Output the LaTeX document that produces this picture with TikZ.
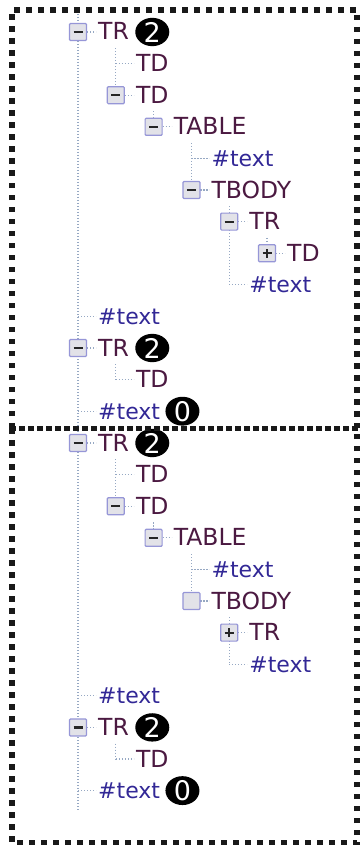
\documentclass[tikz,border=0pt]{standalone}
\usepackage{fontspec}
\setmainfont{DejaVu Sans}
\usetikzlibrary{positioning}
\usetikzlibrary{shapes}
\definecolor{tagcol}{RGB}{75,25,65}
\definecolor{txtcol}{RGB}{50,40,150}
\definecolor{linecol}{RGB}{150,168,195}
\definecolor{boxedge}{RGB}{150,150,215}
\definecolor{boxfill}{RGB}{226,226,232}
\tikzstyle{branch}=[linecol, line width=1.1pt, dash pattern=on 1.1pt off 1.9pt]
\tikzstyle{tag}=[anchor=west, inner sep=0pt, text height=16pt, text depth=0pt,
  font=\fontsize{23.5}{26}\selectfont, text=tagcol]
\tikzstyle{txt}=[tag, font=\fontsize{22}{26}\selectfont, text=txtcol]
\tikzstyle{toggle}=[draw=boxedge, fill=boxfill, line width=1.2pt, minimum size=17pt,
  inner sep=0pt, rounded corners=1pt]
\tikzstyle{emptybox}=[toggle]
\tikzstyle{openbox}=[toggle, path picture={
    \draw[line width=2.2pt, black!85]
      ([xshift=-4.5pt]path picture bounding box.center) --
      ([xshift=4.5pt]path picture bounding box.center);}]
\tikzstyle{closedbox}=[toggle, path picture={
    \draw[line width=2.2pt, black!85]
      ([xshift=-4.5pt]path picture bounding box.center) --
      ([xshift=4.5pt]path picture bounding box.center)
      ([yshift=-4.5pt]path picture bounding box.center) --
      ([yshift=4.5pt]path picture bounding box.center);}]
\tikzstyle{badge}=[ellipse, fill=black, text=white, minimum width=34pt,
  minimum height=28pt, inner sep=0pt, font=\fontsize{27}{27}\selectfont]
\tikzstyle{frame}=[line width=5.5pt, dash pattern=on 5.5pt off 6.5pt, black!90]
\tikzstyle{divider}=[line width=5pt, dash pattern=on 6pt off 3pt, black!90]

\begin{document}
\begin{tikzpicture}[x=1pt, y=-1pt]
  \useasboundingbox (0,0) rectangle (360,845);

  % stem shared by both trees
  \coordinate (root) at (78,14);
  \coordinate (stem) at (78,810);
  \draw[branch] (root) -- (stem);

  % upper tree: rows
  \foreach \k/\lvl/\lab/\sty [evaluate=\lvl as \xx using 78+37.8*\lvl,
      evaluate=\k as \yy using 32+31.6*\k] in
    {0/0/TR/tag, 1/1/TD/tag, 2/1/TD/tag, 3/2/TABLE/tag, 4/3/\#text/txt,
     5/3/TBODY/tag, 6/4/TR/tag, 7/5/TD/tag, 8/4/\#text/txt, 9/0/\#text/txt,
     10/0/TR/tag, 11/1/TD/tag, 12/0/\#text/txt} {
    \coordinate (pa\k) at (\xx,\yy);
    \node[\sty] (la\k) at (\xx+20,\yy) {\lab};
    \draw[branch] (pa\k) -- ([xshift=-2pt]la\k.west);
  }
  \draw[branch] ([yshift=-8pt]pa1 |- la0.south) -- (pa2);
  \draw[branch] ([yshift=-8pt]pa3 |- la2.south) -- (pa3);
  \draw[branch] ([yshift=-8pt]pa4 |- la3.south) -- (pa5);
  \draw[branch] ([yshift=-8pt]pa6 |- la5.south) -- (pa8);
  \draw[branch] ([yshift=-8pt]pa7 |- la6.south) -- (pa7);
  \draw[branch] ([yshift=-8pt]pa11 |- la10.south) -- (pa11);
  \foreach \k/\sty in {0/openbox, 2/openbox, 3/openbox, 5/openbox, 6/openbox,
      7/closedbox, 10/openbox}
    \node[\sty] (ba\k) at (pa\k) {};
  \node[badge, right=6pt of la0] (na0) {2};
  \node[badge, right=6pt of la10] (na10) {2};
  \node[badge, right=5pt of la12] (na12) {0};

  % lower tree: rows
  \foreach \k/\lvl/\lab/\sty [evaluate=\lvl as \xx using 78+37.8*\lvl,
      evaluate=\k as \yy using 443+31.6*\k] in
    {0/0/TR/tag, 1/1/TD/tag, 2/1/TD/tag, 3/2/TABLE/tag, 4/3/\#text/txt,
     5/3/TBODY/tag, 6/4/TR/tag, 7/4/\#text/txt, 8/0/\#text/txt,
     9/0/TR/tag, 10/1/TD/tag, 11/0/\#text/txt} {
    \coordinate (pb\k) at (\xx,\yy);
    \node[\sty] (lb\k) at (\xx+20,\yy) {\lab};
    \draw[branch] (pb\k) -- ([xshift=-2pt]lb\k.west);
  }
  \draw[branch] ([yshift=-8pt]pb1 |- lb0.south) -- (pb2);
  \draw[branch] ([yshift=-8pt]pb3 |- lb2.south) -- (pb3);
  \draw[branch] ([yshift=-8pt]pb4 |- lb3.south) -- (pb5);
  \draw[branch] ([yshift=-8pt]pb6 |- lb5.south) -- (pb7);
  \draw[branch] ([yshift=-8pt]pb10 |- lb9.south) -- (pb10);
  \foreach \k/\sty in {0/openbox, 2/openbox, 3/openbox, 5/emptybox,
      6/closedbox, 9/openbox}
    \node[\sty] (bb\k) at (pb\k) {};
  \node[badge, right=6pt of lb0] (nb0) {2};
  \node[badge, right=6pt of lb9] (nb9) {2};
  \node[badge, right=5pt of lb11] (nb11) {0};

  % dotted frames and the dashed divider
  \draw[frame] (12,428) -- (12,10) -- (357,10) -- (357,428);
  \draw[frame] (12,428) -- (12,843) -- (357,843) -- (357,428);
  \draw[divider] (10,428) -- (359,428);
\end{tikzpicture}
\end{document}
